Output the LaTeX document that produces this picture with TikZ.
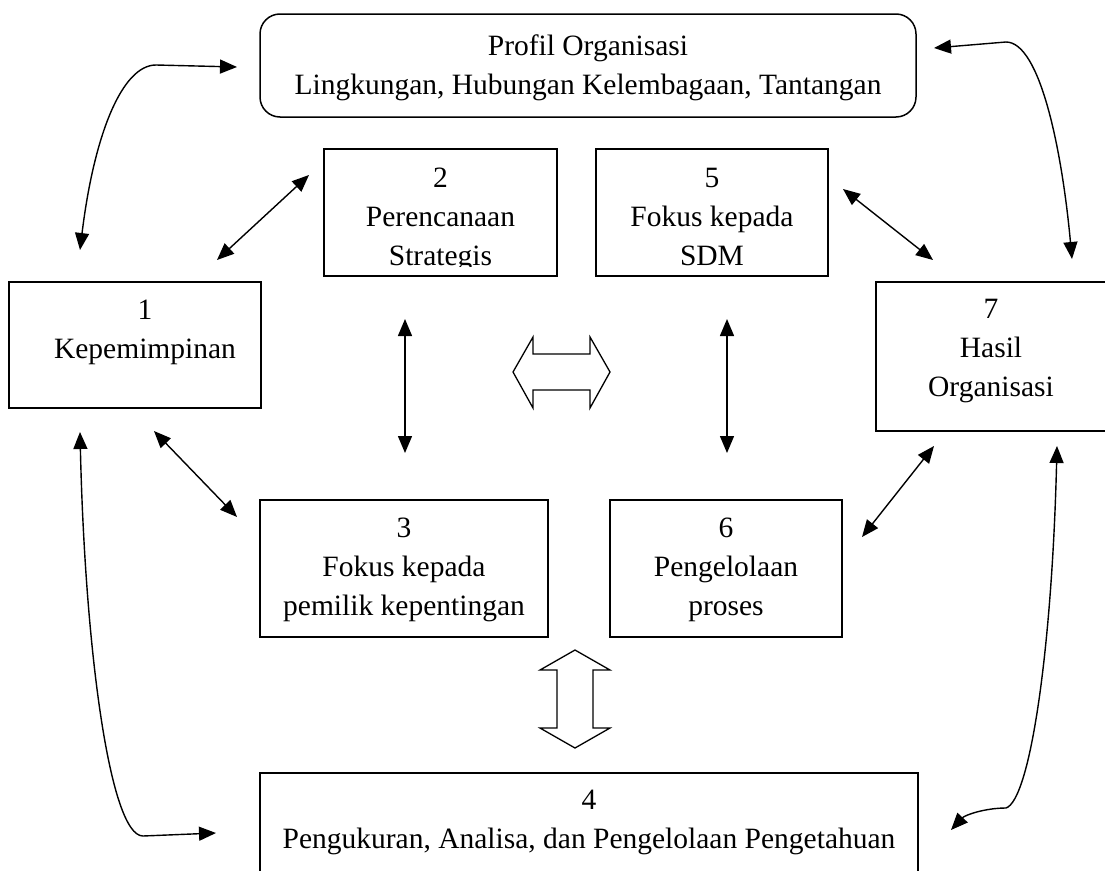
\documentclass[tikz,border=0pt]{standalone}
\usepackage{fontspec}
\setmainfont{Liberation Serif}
\usetikzlibrary{arrows.meta}
\begin{document}
\begin{tikzpicture}[x=1pt,y=-1pt,
  box/.style={draw, line width=1.5pt, inner sep=0pt},
  lbl/.style={inner sep=0pt, anchor=base, font=\fontsize{29.5}{39}\selectfont},
  link/.style={line width=1.4pt, {Triangle[length=17pt,width=14pt]}-{Triangle[length=17pt,width=14pt]}},
  hollow/.style={draw, line width=1.3pt, fill=white, line join=miter}]

% page frame
\clip (0,0) rectangle (1105,870);
\fill[white] (0,0) rectangle (1105,870);

% organisational profile
\node[box, rounded corners=20pt, minimum width=656pt, minimum height=103pt] (prof) at (588,65.5) {};
\node[lbl] (proft) at (588,55) {\begin{tabular}[t]{@{}c@{}}Profil Organisasi\\Lingkungan, Hubungan Kelembagaan, Tantangan\end{tabular}};

% criteria boxes
\node[box, minimum width=252pt, minimum height=126pt] (b1) at (135,345) {};
\node[lbl] (b1t) at (145,319) {\begin{tabular}[t]{@{}c@{}}1\\Kepemimpinan\end{tabular}};

\node[box, minimum width=233pt, minimum height=127pt] (b2) at (440.5,212.5) {};
\begin{scope}
  \clip (324,149) rectangle (557,266);
  \node[lbl] (b2t) at (440.5,187) {\begin{tabular}[t]{@{}c@{}}2\\Perencanaan\\Strategis\end{tabular}};
\end{scope}

\node[box, minimum width=232pt, minimum height=127pt] (b5) at (712,212.5) {};
\node[lbl] (b5t) at (712,187) {\begin{tabular}[t]{@{}c@{}}5\\Fokus kepada\\SDM\end{tabular}};

\node[box, minimum width=230pt, minimum height=149pt] (b7) at (991,356.5) {};
\node[lbl] (b7t) at (991,318) {\begin{tabular}[t]{@{}c@{}}7\\Hasil\\Organisasi\end{tabular}};

\node[box, minimum width=288pt, minimum height=137pt] (b3) at (404,568.5) {};
\node[lbl] (b3t) at (404,537) {\begin{tabular}[t]{@{}c@{}}3\\Fokus kepada\\pemilik kepentingan\end{tabular}};

\node[box, minimum width=232pt, minimum height=137pt] (b6) at (726,568.5) {};
\node[lbl] (b6t) at (726,537) {\begin{tabular}[t]{@{}c@{}}6\\Pengelolaan\\proses\end{tabular}};

\node[box, minimum width=658pt, minimum height=117pt] (b4) at (589,831.5) {};
\node[lbl] (b4t) at (589,809) {\begin{tabular}[t]{@{}c@{}}4\\Pengukuran, Analisa, dan Pengelolaan Pengetahuan\end{tabular}};

% straight two-way links
\coordinate (l12a) at (217,260);  \coordinate (l12b) at (309,175);
\coordinate (l23a) at (405,319);  \coordinate (l23b) at (405,453);
\coordinate (l56a) at (727,319);  \coordinate (l56b) at (727,453);
\coordinate (l57a) at (843,189);  \coordinate (l57b) at (933,260);
\coordinate (l13a) at (154,431);  \coordinate (l13b) at (237,517);
\coordinate (l67a) at (862,537);  \coordinate (l67b) at (934,446);
\draw[link] (l12a) -- (l12b);
\draw[link] (l23a) -- (l23b);
\draw[link] (l56a) -- (l56b);
\draw[link] (l57a) -- (l57b);
\draw[link] (l13a) -- (l13b);
\draw[link] (l67a) -- (l67b);

% curved two-way links around the frame
\coordinate (tla) at (80,250);   \coordinate (tlm) at (156,65);  \coordinate (tlb) at (237,67);
\coordinate (tra) at (934,48);   \coordinate (trm) at (1006,42); \coordinate (trb) at (1072,259);
\coordinate (bla) at (80,432);   \coordinate (blm) at (143,836); \coordinate (blb) at (216,833);
\coordinate (bra) at (1057,446); \coordinate (brm) at (1006,808); \coordinate (brb) at (951,830);
\draw[link] (tla) .. controls (94,135) and (122,65) .. (tlm) -- (tlb);
\draw[link] (tra) -- (trm) .. controls (1040,42) and (1062,150) .. (trb);
\draw[link] (bla) .. controls (85,650) and (110,836) .. (blm) -- (blb);
\draw[link] (bra) .. controls (1052,650) and (1030,800) .. (brm) .. controls (985,808) and (965,815) .. (brb);

% hollow block arrows
\draw[hollow] (513,372) -- (533,337) -- (533,354) -- (590,354) -- (590,337) -- (610,372)
  -- (590,408) -- (590,390) -- (533,390) -- (533,408) -- cycle;
\draw[hollow] (575,650) -- (610,670) -- (593,670) -- (593,728) -- (610,728) -- (575,748)
  -- (540,728) -- (557,728) -- (557,670) -- (540,670) -- cycle;
\end{tikzpicture}
\end{document}
